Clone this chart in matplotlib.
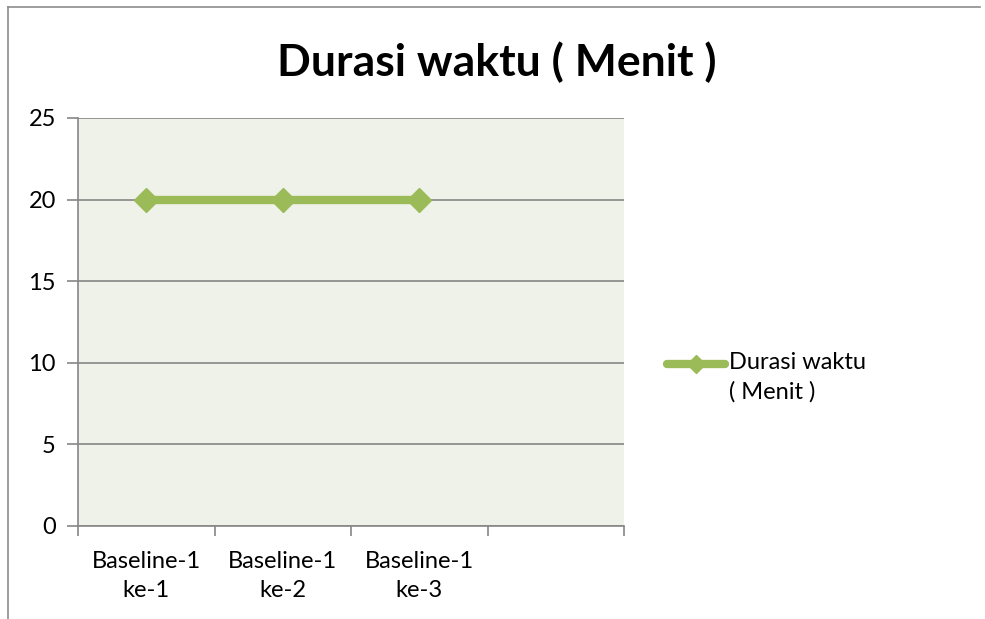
import matplotlib.pyplot as plt
from matplotlib.lines import Line2D
from matplotlib.legend_handler import HandlerLine2D

plt.rcParams['font.family'] = ['Lato', 'DejaVu Sans']

categories = ['Baseline-1\nke-1', 'Baseline-1\nke-2', 'Baseline-1\nke-3']
durasi = [20, 20, 20]
y_ticks = [0, 5, 10, 15, 20, 25]
series_name = 'Durasi waktu\n( Menit )'

green = '#9BBB59'
grid_color = '#868686'


class TopLineHandler(HandlerLine2D):
    # put the legend line next to the first text line, like Excel does
    def create_artists(self, legend, orig_handle, xdescent, ydescent, width, height,
                       fontsize, trans):
        return super().create_artists(legend, orig_handle, xdescent, ydescent - 19,
                                      width, height, fontsize, trans)


fig = plt.figure(figsize=(9.85, 6.19), dpi=100)
ax = fig.add_axes([78 / 985, 1 - 526 / 619, (624 - 78) / 985, (526 - 118) / 619])
ax.set_facecolor('#EFF2E9')

x = list(range(len(categories)))
ax.plot(x, durasi, color=green, linewidth=6, marker='D', markersize=12,
        solid_capstyle='round', zorder=3, label=series_name)

ax.set_xlim(-0.5, len(categories) + 0.5)
ax.set_ylim(0, 25)
ax.set_yticks(y_ticks)
ax.set_xticks(x)
ax.set_xticklabels(categories, fontsize=17, linespacing=1.45)
ax.set_xticks([i - 0.5 for i in range(len(categories) + 2)], minor=True)
ax.tick_params(axis='x', which='major', length=0, pad=18)
ax.tick_params(axis='x', which='minor', length=7, color=grid_color, width=1.2)
ax.tick_params(axis='y', length=8, color=grid_color, width=1.2, labelsize=17, pad=8)

ax.yaxis.grid(True, color=grid_color, linewidth=1.2)
ax.set_axisbelow(True)
for s in ['top', 'right']:
    ax.spines[s].set_visible(False)
ax.spines['left'].set_color(grid_color)
ax.spines['bottom'].set_color(grid_color)
ax.spines['left'].set_linewidth(1.2)
ax.spines['bottom'].set_linewidth(1.2)

fig.text(497 / 985, 1 - 62 / 619, 'Durasi waktu ( Menit )', ha='center', va='center',
         fontsize=32, fontweight='bold')

# legend
handle = Line2D([], [], color=green, linewidth=6, marker='D', markersize=9,
                solid_capstyle='round')
leg = fig.legend([handle], [series_name], loc='center left',
                 bbox_to_anchor=(646 / 985, 1 - 377 / 619), frameon=False,
                 fontsize=17, handlelength=2.45, handletextpad=0.15,
                 handler_map={Line2D: TopLineHandler()})
for t in leg.get_texts():
    t.set_linespacing(1.45)

# chart frame (left and top edges visible)
fig.add_artist(Line2D([8 / 985, 8 / 985], [0, 1 - 7 / 619], color='#8C8C8C', linewidth=1.2))
fig.add_artist(Line2D([8 / 985, 980 / 985], [1 - 7 / 619, 1 - 7 / 619], color='#8C8C8C', linewidth=1.2))

plt.savefig('out.png', dpi=100)
